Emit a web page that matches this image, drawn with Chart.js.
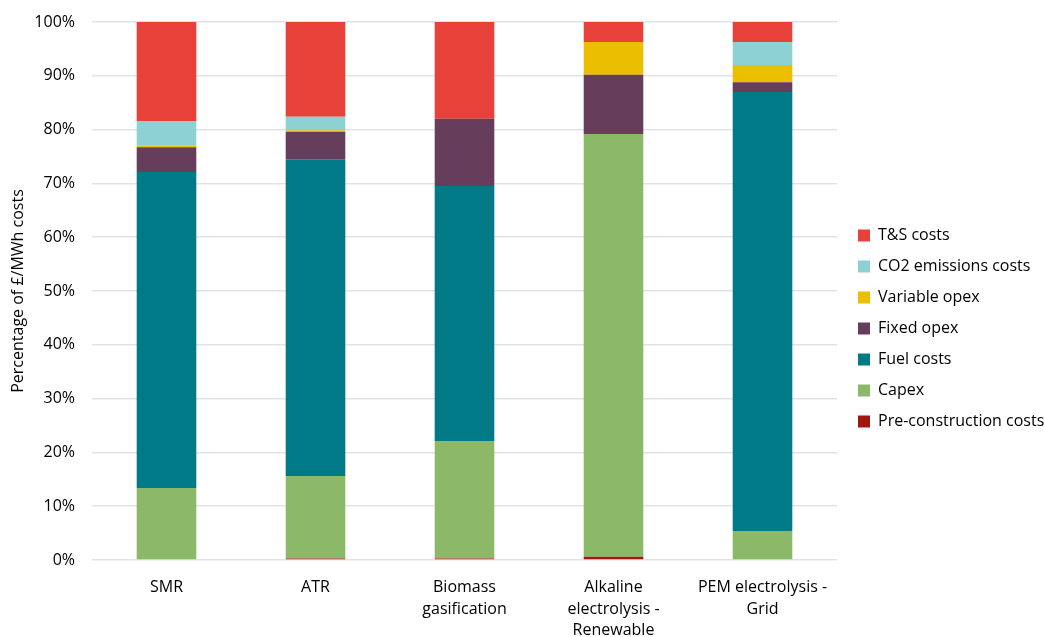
<!DOCTYPE html>
<html>
<head>
<meta charset="utf-8">
<script src="https://cdn.jsdelivr.net/npm/chart.js@4"></script>
<style>
  html, body { margin: 0; padding: 0; background: #fff; }
  #wrap { width: 1044px; height: 637px; }
</style>
</head>
<body>
<div id="wrap"><canvas id="costChart" width="1044" height="637"></canvas></div>
<script>
// categories
const categories = [
  "SMR",
  "ATR",
  ["Biomass", "gasification"],
  ["Alkaline", "electrolysis -", "Renewable"],
  ["PEM electrolysis -", "Grid"]
];

// share of £/MWh costs, %
const preConstruction = [0.0, 0.3, 0.3, 0.6, 0.0];
const capex           = [13.4, 15.3, 21.8, 78.6, 5.4];
const fuelCosts       = [58.7, 58.9, 47.4, 0.0, 81.6];
const fixedOpex       = [4.6, 5.1, 12.5, 11.0, 1.8];
const variableOpex    = [0.3, 0.3, 0.0, 6.1, 3.2];
const co2Costs        = [4.6, 2.5, 0.0, 0.0, 4.3];
const tsCosts         = [18.4, 17.6, 18.0, 3.7, 3.7];

const yTicks = [0, 10, 20, 30, 40, 50, 60, 70, 80, 90, 100];

const series = [
  { label: "Pre-construction costs", data: preConstruction, color: "#A0180F" },
  { label: "Capex", data: capex, color: "#8BB968" },
  { label: "Fuel costs", data: fuelCosts, color: "#007A87" },
  { label: "Fixed opex", data: fixedOpex, color: "#663D5A" },
  { label: "Variable opex", data: variableOpex, color: "#EBBF00" },
  { label: "CO2 emissions costs", data: co2Costs, color: "#8ED1D2" },
  { label: "T&S costs", data: tsCosts, color: "#E8413A" }
];

const tickFont = { family: "'Open Sans', sans-serif", size: 16, lineHeight: 1.34 };
const textFont = { family: "'Open Sans', sans-serif", size: 16 };

// legend a bit narrower than Chart.js makes it, and nudged right/up
const legendPlace = {
  id: "legendPlace",
  beforeLayout(chart) {
    const lg = chart.legend;
    if (lg && !lg._patched) {
      const fit = lg.fit.bind(lg);
      lg.fit = function () { fit(); this.width = 207; };
      lg._patched = true;
    }
  },
  afterLayout(chart) {
    const lg = chart.legend;
    lg.left += 6; lg.right += 6;
    lg.top -= 1; lg.bottom -= 1;
  }
};

const ctx = document.getElementById("costChart").getContext("2d");
new Chart(ctx, {
  type: "bar",
  data: {
    labels: categories,
    datasets: series.map(s => ({
      label: s.label,
      data: s.data,
      backgroundColor: s.color,
      borderWidth: 0,
      barPercentage: 0.4,
      categoryPercentage: 1.0
    }))
  },
  plugins: [legendPlace],
  options: {
    responsive: false,
    animation: false,
    layout: { padding: { top: 22, right: 0, bottom: 0, left: 5 } },
    plugins: {
      tooltip: { enabled: false },
      legend: {
        position: "right",
        reverse: true,
        align: "center",
        labels: {
          boxWidth: 12,
          boxHeight: 12,
          padding: 15,
          color: "#000",
          font: textFont
        }
      }
    },
    scales: {
      x: {
        stacked: true,
        grid: { display: false },
        border: { display: false },
        afterFit: axis => { axis.height = 77; },
        ticks: { color: "#000", font: tickFont, maxRotation: 0, autoSkip: false, padding: 9 }
      },
      y: {
        stacked: true,
        min: 0,
        max: 100,
        afterBuildTicks: axis => { axis.ticks = yTicks.map(v => ({ value: v })); },
        afterFit: axis => { axis.width = 87; axis.paddingTop = 0; axis.paddingBottom = 0; },
        grid: { color: "#dfe3e8", lineWidth: 1.5, drawTicks: false },
        border: { display: false },
        title: { display: true, text: "Percentage of £/MWh costs", color: "#000", font: textFont, padding: 4 },
        ticks: { color: "#000", font: tickFont, padding: 17, callback: v => v + "%" }
      }
    }
  }
});
</script>
</body>
</html>
